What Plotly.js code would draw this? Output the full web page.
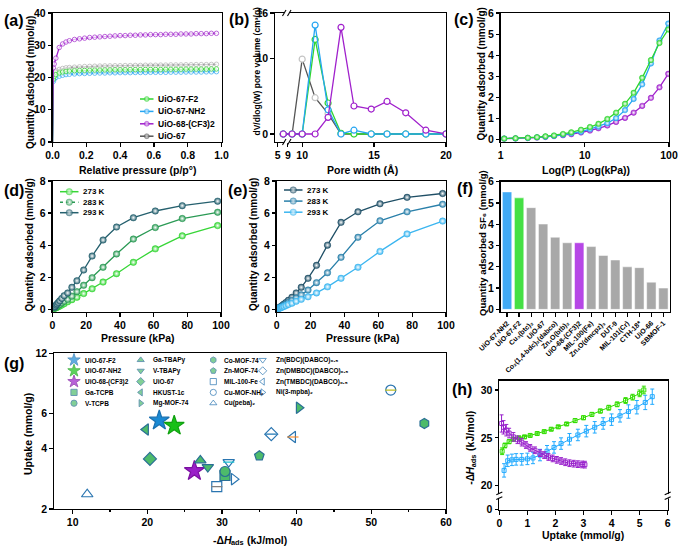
<!DOCTYPE html>
<html><head><meta charset="utf-8">
<script src="https://cdn.plot.ly/plotly-3.0.1.min.js"></script>
<style>html,body{margin:0;padding:0;background:#fff}#chart{width:680px;height:550px}</style>
</head><body><div id="chart"></div>
<script>
// ---------- DATA ----------
// (a) N2 isotherms
const pRel = [0, 0.005, 0.01, 0.02, 0.04, 0.06, 0.08, 0.10, 0.13, 0.16, 0.19, 0.22, 0.25, 0.28, 0.31, 0.34, 0.37, 0.40, 0.43, 0.46, 0.49, 0.52, 0.55, 0.58, 0.61, 0.64, 0.67, 0.70, 0.73, 0.76, 0.79, 0.82, 0.85, 0.88, 0.91, 0.94, 0.97];
const n2F2 = [0, 19.5, 20.3, 20.9, 21.4, 21.7, 21.9, 22.0, 22.1, 22.15, 22.2, 22.25, 22.3, 22.3, 22.35, 22.35, 22.4, 22.4, 22.4, 22.45, 22.45, 22.45, 22.5, 22.5, 22.5, 22.5, 22.55, 22.55, 22.55, 22.55, 22.6, 22.6, 22.6, 22.6, 22.6, 22.65, 22.65];
const n2NH2 = [0, 18.8, 19.5, 20.0, 20.4, 20.7, 20.9, 21.0, 21.1, 21.2, 21.25, 21.3, 21.35, 21.4, 21.4, 21.45, 21.45, 21.5, 21.5, 21.5, 21.55, 21.55, 21.55, 21.6, 21.6, 21.6, 21.6, 21.65, 21.65, 21.65, 21.7, 21.7, 21.7, 21.7, 21.75, 21.75, 21.8];
const n2CF3 = [0, 23.0, 24.2, 26.0, 29.3, 30.4, 31.0, 31.4, 31.8, 32.0, 32.2, 32.4, 32.5, 32.6, 32.7, 32.8, 32.9, 33.0, 33.0, 33.1, 33.1, 33.2, 33.2, 33.3, 33.3, 33.3, 33.4, 33.4, 33.4, 33.5, 33.5, 33.5, 33.6, 33.6, 33.6, 33.7, 33.7];
const n2UiO67 = [0, 20.5, 21.5, 22.0, 22.5, 22.8, 23.0, 23.1, 23.2, 23.3, 23.4, 23.45, 23.5, 23.55, 23.6, 23.6, 23.65, 23.65, 23.7, 23.7, 23.75, 23.75, 23.8, 23.8, 23.8, 23.85, 23.85, 23.9, 23.9, 23.9, 23.95, 23.95, 24.0, 24.0, 24.0, 24.05, 24.1];

// (b) pore size distribution
const poreW = [7.2, 9.3, 10.0, 10.9, 11.8, 12.7, 13.6, 14.8, 15.9, 17.2, 18.6, 20.0];
const psdF2 = [0, 0, 0, 12.5, 4.1, 0.1, 0, 0, 0, 0, 0, 0];
const psdNH2 = [0, 0, 0, 14.4, 3.2, 0, 0.5, 0, 0, 0, 0, 0];
const psdCF3 = [0, 0, 0, 0, 2.2, 14.1, 3.7, 3.3, 4.3, 2.8, 0.5, 0];
const psdUiO67 = [0, 0, 9.9, 4.8, 2.7, 0, 0, 0, 0, 0, 0, 0];
const poreTickVals = [5, 9, 10, 15, 20];

// (c)(d)(e) SF6 isotherms
const pkPa = [1.1, 1.5, 2.1, 2.7, 3.4, 4.3, 5.5, 6.9, 9.0, 11.5, 14.5, 18.5, 23.5, 30, 38, 48, 61, 77, 98];
const sf6F2_273K = [0.05, 0.07, 0.09, 0.12, 0.16, 0.20, 0.27, 0.35, 0.47, 0.60, 0.75, 0.98, 1.28, 1.70, 2.22, 2.93, 3.77, 4.58, 5.22];
const sf6F2_283K = [0.07, 0.10, 0.14, 0.18, 0.24, 0.30, 0.40, 0.50, 0.62, 0.82, 1.10, 1.50, 1.97, 2.62, 3.45, 4.38, 5.10, 5.66, 6.05];
const sf6F2_293K = [0.13, 0.18, 0.26, 0.33, 0.42, 0.53, 0.68, 0.85, 1.02, 1.37, 1.78, 2.45, 3.32, 4.32, 5.13, 5.71, 6.13, 6.46, 6.74];
const sf6NH2_273K = [0.07, 0.10, 0.14, 0.19, 0.25, 0.33, 0.43, 0.56, 0.75, 1.02, 1.37, 1.93, 2.74, 4.00, 5.42, 6.08, 6.58, 6.98, 7.22];
const sf6NH2_283K = [0.06, 0.08, 0.12, 0.16, 0.20, 0.26, 0.33, 0.42, 0.55, 0.70, 0.90, 1.20, 1.66, 2.28, 3.24, 4.49, 5.52, 6.08, 6.55];
const sf6NH2_293K = [0.05, 0.06, 0.08, 0.11, 0.14, 0.18, 0.23, 0.30, 0.38, 0.50, 0.62, 0.78, 1.02, 1.40, 1.93, 2.62, 3.61, 4.70, 5.50];
const sf6CF3 = [0.05, 0.06, 0.08, 0.10, 0.13, 0.17, 0.21, 0.26, 0.34, 0.43, 0.54, 0.67, 0.84, 1.03, 1.28, 1.60, 1.98, 2.48, 3.12];
const tempLabels = ['273 K', '283 K', '293 K'];

// (f) SF6 uptake comparison
const mofNames = ['UiO-67-NH2', 'UiO-67-F2', 'Cu₃(btc)₂', 'UiO-67', 'Co₂(1,4-bdc)₂(dabco)', 'Zn₄O(btb)₂', 'UiO-68-(CF3)2', 'MIL-100(Fe)', 'Zn₄O(dmcpz)₃', 'DUT-9', 'MIL-101(Cr)', 'CTH-18*', 'UiO-66', 'SBMOF-1'];
const mofUptake = [5.52, 5.24, 4.78, 4.01, 3.39, 3.13, 3.13, 2.95, 2.53, 2.32, 2.00, 1.96, 1.28, 1.00];

// (g) uptake vs heat of adsorption
const gNames = ['UiO-67-F2', 'UiO-67-NH2', 'UiO-68-(CF3)2', 'Ga-TCPB', 'V-TCPB', 'Ga-TBAPy', 'V-TBAPy', 'UiO-67', 'HKUST-1c', 'Mg-MOF-74', 'Co-MOF-74', 'Zn-MOF-74', 'MIL-100-Fe', 'Cu-MOF-NH₂', 'Cu(peba)₂', 'Zn(BDC)(DABCO)₀.₅', 'Zn(DMBDC)(DABCO)₀.₅', 'Zn(TMBDC)(DABCO)₀.₅', 'Ni(3-mpba)₂'];
const gDH = [21.6, 23.6, 26.3, 30.4, 30.4, 27.1, 28.1, 20.35, 19.8, 40.3, 57.1, 35.0, 29.3, 52.6, 11.95, 30.9, 36.6, 39.5, 31.6];
const gUp = [5.54, 5.22, 3.10, 2.94, 3.08, 3.50, 3.24, 3.56, 4.99, 6.41, 5.35, 3.69, 2.59, 7.86, 2.37, 3.43, 4.73, 4.58, 2.82];

// (h) isosteric heat
const hF2x = [0.10, 0.20, 0.35, 0.50, 0.70, 0.90, 1.10, 1.35, 1.60, 1.85, 2.10, 2.40, 2.70, 3.00, 3.30, 3.60, 3.90, 4.20, 4.50, 4.75, 5.00, 5.15];
const hF2y = [23.6, 24.2, 24.6, 24.85, 25.0, 25.1, 25.25, 25.45, 25.65, 25.9, 26.15, 26.45, 26.8, 27.1, 27.45, 27.8, 28.15, 28.5, 28.9, 29.25, 29.65, 30.0];
const hF2e = [0.35, 0.25, 0.2, 0.15, 0.15, 0.15, 0.15, 0.15, 0.15, 0.15, 0.15, 0.15, 0.2, 0.2, 0.2, 0.2, 0.25, 0.25, 0.3, 0.3, 0.35, 0.4];
const hNH2x = [0.17, 0.30, 0.45, 0.60, 0.80, 1.00, 1.20, 1.45, 1.70, 1.95, 2.20, 2.50, 2.80, 3.10, 3.40, 3.70, 4.00, 4.30, 4.60, 4.90, 5.20, 5.45];
const hNH2y = [21.6, 22.6, 22.7, 22.75, 22.75, 22.8, 22.9, 23.2, 23.6, 24.0, 24.4, 24.85, 25.3, 25.7, 26.1, 26.5, 26.9, 27.3, 27.75, 28.2, 28.7, 29.3];
const hNH2e = [0.7, 0.6, 0.6, 0.6, 0.6, 0.6, 0.6, 0.6, 0.6, 0.6, 0.6, 0.6, 0.6, 0.6, 0.6, 0.6, 0.6, 0.65, 0.7, 0.7, 0.75, 0.8];
const hCF3x = [0.08, 0.15, 0.25, 0.35, 0.50, 0.65, 0.80, 0.95, 1.10, 1.27, 1.45, 1.60, 1.75, 1.90, 2.05, 2.20, 2.35, 2.50, 2.65, 2.80, 2.95, 3.05];
const hCF3y = [26.5, 26.1, 25.8, 25.5, 25.1, 24.8, 24.55, 24.25, 23.95, 23.7, 23.4, 23.2, 23.0, 22.85, 22.7, 22.58, 22.45, 22.35, 22.3, 22.25, 22.22, 22.2];
const hCF3e = [0.9, 0.7, 0.6, 0.5, 0.45, 0.4, 0.4, 0.35, 0.35, 0.35, 0.35, 0.35, 0.35, 0.35, 0.35, 0.35, 0.35, 0.35, 0.35, 0.35, 0.35, 0.35];

// ---------- STYLE / LAYOUT HELPERS ----------
const W = 680, H = 550;
const FONT = '"Liberation Sans", Arial, sans-serif';
const BLK = '#000';
const C = {F2: '#2fd62f', NH2: '#27a6f2', CF3: '#a020cc', U67: '#666666'};
function xd(a, b) { return [a / W, b / W]; }
function yd(t, b) { return [1 - b / H, 1 - t / H]; }
function F(size, style) { return {family: FONT, size: size, color: BLK, weight: 700, style: style || 'normal'}; }
function axis(o) {
  return Object.assign({showline: true, linecolor: BLK, linewidth: 1.3, mirror: true, ticks: 'outside',
    ticklen: 3.5, tickwidth: 1.2, tickcolor: BLK, showgrid: false, zeroline: false,
    tickfont: F(10.5), fixedrange: true}, o);
}
const mctx = document.createElement('canvas').getContext('2d');
function measure(t, size, italic) {
  mctx.font = (italic ? 'italic ' : '') + 'bold ' + size + 'px "Liberation Sans", Arial, sans-serif';
  return mctx.measureText(t).width;
}

const data = [];
const ann = [];
const shapes = [];

// (a)
function isoA(name, y, col, mk) {
  return {type: 'scatter', mode: 'lines+markers', name: name, x: pRel, y: y, xaxis: 'x', yaxis: 'y',
    line: {color: col, width: 1.3},
    marker: {symbol: 'circle', size: pRel.map(p => p === 0 ? 0 : 4.5), color: '#fff', line: {color: mk || col, width: 1}},
    showlegend: false};
}
data.push(isoA('UiO-67', n2UiO67, C.U67, '#b0b0b0'));
data.push(isoA('UiO-67-NH2', n2NH2, C.NH2));
data.push(isoA('UiO-67-F2', n2F2, C.F2));
data.push(isoA('UiO-68-(CF3)2', n2CF3, C.CF3));

// (b) broken axis mapping (5-9 compressed)
const brk = w => w < 9 ? 8.3 + (w - 5) * 0.175 : w;
function psd(name, y, col, mk) {
  return {type: 'scatter', mode: 'lines+markers', name: name, x: poreW.map(brk), y: y, xaxis: 'x2', yaxis: 'y2',
    line: {color: col, width: 1.3},
    marker: {symbol: 'circle', size: 6, color: '#fff', line: {color: mk || col, width: 1.2}}, showlegend: false};
}
data.push(psd('UiO-67', psdUiO67, '#555555', '#c4c4c4'));
data.push(psd('UiO-67-F2', psdF2, C.F2));
data.push(psd('UiO-67-NH2', psdNH2, C.NH2));
data.push(psd('UiO-68-(CF3)2', psdCF3, C.CF3));

// (c)
function iso(name, y, col, xa, ya, dash) {
  return {type: 'scatter', mode: 'lines+markers', name: name, x: pkPa, y: y, xaxis: xa, yaxis: ya,
    line: {color: col, width: 1.3, dash: dash || 'solid'},
    marker: {symbol: 'circle', size: 5.5, color: col, line: {color: col, width: 0.5}, gradient: {type: 'radial', color: '#ffffff'}},
    showlegend: false};
}
data.push(iso('UiO-68-(CF3)2', sf6CF3, C.CF3, 'x3', 'y3'));
data.push(iso('UiO-67-NH2', sf6NH2_293K, C.NH2, 'x3', 'y3'));
data.push(iso('UiO-67-F2', sf6F2_273K, C.F2, 'x3', 'y3'));

// (d)(e)
const dCols = ['#37d637', '#2b9a55', '#25606e'];
const eCols = ['#1f4f66', '#2a80aa', '#3cb6f0'];
[sf6F2_273K, sf6F2_283K, sf6F2_293K].forEach((y, i) => {
  const t = iso(tempLabels[i], y, dCols[i], 'x4', 'y4'); t.marker.size = 6.5; data.push(t);
});
[sf6NH2_273K, sf6NH2_283K, sf6NH2_293K].forEach((y, i) => {
  const t = iso(tempLabels[i], y, eCols[i], 'x5', 'y5'); t.marker.size = 6.5; data.push(t);
});

// (f)
const barCols = mofNames.map((n, i) => i === 0 ? '#41aaf5' : i === 1 ? '#45e045' : n === 'UiO-68-(CF3)2' ? '#b646e6' : '#a8a8a8');
data.push({type: 'bar', name: 'SF6 uptake', x: mofNames, y: mofUptake, xaxis: 'x6', yaxis: 'y6',
  marker: {color: barCols, line: {color: '#ffffff', width: 0.5}}, showlegend: false});

// (g)
const gSym = ['star', 'star', 'star', 'square', 'circle', 'triangle-up', 'triangle-down', 'diamond', 'triangle-left', 'triangle-right', 'hexagon', 'pentagon', 'square-open', 'circle-open', 'triangle-up-open', 'triangle-down-open', 'diamond-open', 'triangle-left-open', 'triangle-right-open'];
const gFill = gNames.map((n, i) => i === 0 ? '#1a8ad4' : i === 1 ? '#18c018' : i === 2 ? '#9a1fc8' : i < 12 ? '#4dbb6a' : '#2a75b0');
const gEdge = gNames.map((n, i) => i === 0 ? '#1a70b0' : i === 1 ? '#10a010' : i === 2 ? '#7a10a0' : '#2a6f96');
const gSize = gNames.map((n, i) => i < 3 ? 15 : 10);
gNames.forEach((n, i) => {
  data.push({type: 'scatter', mode: 'markers', name: n, x: [gDH[i]], y: [gUp[i]], xaxis: 'x7', yaxis: 'y7',
    marker: {symbol: gSym[i], size: gSize[i], color: gFill[i], line: {color: gEdge[i], width: 1.2}},
    cliponaxis: false, showlegend: false});
});
[12, 13, 15, 16, 17].forEach(i => {
  data.push({type: 'scatter', mode: 'markers', name: gNames[i], x: [gDH[i]], y: [gUp[i]], xaxis: 'x7', yaxis: 'y7',
    marker: {symbol: 'line-ew-open', size: 8, line: {color: '#2a75b0', width: 1.2}}, hoverinfo: 'skip', showlegend: false});
});

// (h)
function qst(name, x, y, e, col) {
  return {type: 'scatter', mode: 'lines+markers', name: name, x: x, y: y, xaxis: 'x8', yaxis: 'y8',
    line: {color: col, width: 1},
    marker: {symbol: 'square-open', size: 4, color: col, line: {color: col, width: 1}},
    error_y: {type: 'data', array: e, visible: true, color: col, thickness: 1, width: 2},
    showlegend: false};
}
data.push(qst('UiO-67-NH2', hNH2x, hNH2y, hNH2e, '#22aaff'));
data.push(qst('UiO-67-F2', hF2x, hF2y, hF2e, '#33dd00'));
data.push(qst('UiO-68-(CF3)2', hCF3x, hCF3y, hCF3e, '#9922cc'));

// ---------- manual legends on a pixel canvas axis ----------
function legendEntry(x0, x1, xT, yRow, col, label, msize, fs, dash) {
  data.push({type: 'scatter', mode: 'lines+markers', name: label, x: [x0, (x0 + x1) / 2, x1], y: [yRow, yRow, yRow],
    xaxis: 'x9', yaxis: 'y9', line: {color: col, width: 1.5, dash: dash || 'solid'},
    marker: {symbol: 'circle', size: [0, msize, 0], color: col, line: {color: col, width: [0, 0.5, 0]}, gradient: {type: 'radial', color: '#ffffff'}},
    hoverinfo: 'skip', showlegend: false});
  ann.push({xref: 'paper', yref: 'paper', x: xT / W, y: 1 - yRow / H, xanchor: 'left', yanchor: 'middle',
    text: label, showarrow: false, font: F(fs)});
}
[['UiO-67-F2', C.F2], ['UiO-67-NH2', C.NH2], ['UiO-68-(CF3)2', C.CF3], ['UiO-67', '#555555']].forEach((e, i) => {
  legendEntry(140, 153.5, 156, 99 + i * 12.4, e[1], e[0], 5, 8.5);
});
tempLabels.forEach((t, i) => {
  legendEntry(60, 78.5, 81, 191.7 + i * 10.5, dCols[i], t, 6.5, 8, i === 1 ? 'dot' : 'solid');
  legendEntry(284, 302.5, 305, 190 + i * 11.1, eCols[i], t, 6.5, 8);
});
const gColMk = [74, 140.7, 213.3, 262.7], gColTx = [83, 150.5, 221.5, 273.5];
data.push({type: 'scatter', mode: 'markers', name: 'legend (g)', x: gNames.map((n, i) => gColMk[Math.floor(i / 5)]),
  y: gNames.map((n, i) => 360 + (i % 5) * 10.8), xaxis: 'x9', yaxis: 'y9',
  marker: {symbol: gSym, size: gSize.map(s => s * 0.62), color: gFill, line: {color: gEdge, width: 1}},
  hoverinfo: 'skip', showlegend: false});
gNames.forEach((n, i) => {
  ann.push({xref: 'paper', yref: 'paper', x: gColTx[Math.floor(i / 5)] / W, y: 1 - (360 + (i % 5) * 10.8) / H,
    xanchor: 'left', yanchor: 'middle', text: n, showarrow: false, font: F(6.5)});
});

// panel labels
[['(a)', 2, 20], ['(b)', 227, 19], ['(c)', 452, 19], ['(d)', 2, 190], ['(e)', 226, 190], ['(f)', 455, 188], ['(g)', 2, 363], ['(h)', 450, 389]].forEach(p => {
  ann.push({xref: 'paper', yref: 'paper', x: p[1] / W, y: 1 - p[2] / H, xanchor: 'left', yanchor: 'middle',
    text: p[0], showarrow: false, font: F(16)});
});

// axis titles (annotations, placed as in the reference)
const qty = 'Quantity adsorbed (mmol/g)';
[
  ['Relative pressure (p/p°)', 137, 170, 0, 10.5],
  [qty, 31, 83, -90, 10],
  ['Pore width (Å)', 362.5, 170, 0, 10.5],
  ['dV/dlog(W) pore volume (cm³/g)', 256.5, 71, -90, 8.5],
  ['Log(P) (Log(kPa))', 586, 170, 0, 10.5],
  [qty, 481.5, 74, -90, 10],
  ['Pressure (kPa)', 137.5, 338, 0, 10.5],
  [qty, 28.5, 245, -90, 10],
  ['Pressure (kPa)', 362.5, 338, 0, 10.5],
  [qty, 253, 245, -90, 10],
  ['Quantity adsorbed SF₆ (mmol/g)', 482, 243, -90, 9.5],
  ['Uptake (mmol/g)', 28, 434, -90, 10.5],
  ['Uptake (mmol/g)', 583, 535, 0, 10.5]
].forEach(t => ann.push({xref: 'paper', yref: 'paper', x: t[1] / W, y: 1 - t[2] / H, xanchor: 'center', yanchor: 'middle',
  text: t[0], textangle: t[3], showarrow: false, font: F(t[4])}));

// "-ΔH_ads (kJ/mol)" built from pieces (italic H, lowered "ads")
function dHTitle(cx, cy, vertical, size) {
  const pieces = [
    {t: '-Δ', s: size, it: false, sub: 0},
    {t: 'H', s: size, it: true, sub: 0},
    {t: 'ads', s: size * 0.7, it: false, sub: size * 0.28},
    {t: '(kJ/mol)', s: size, it: false, sub: 0, gap: size * 0.28}
  ];
  pieces.forEach(p => { p.w = measure(p.t, p.s, p.it); });
  const total = pieces.reduce((a, p) => a + p.w + (p.gap || 0), 0);
  let off = -total / 2;
  pieces.forEach(p => {
    off += (p.gap || 0);
    const mid = off + p.w / 2;
    const px = vertical ? cx + p.sub : cx + mid;
    const py = vertical ? cy - mid : cy + p.sub;
    ann.push({xref: 'paper', yref: 'paper', x: px / W, y: 1 - py / H, xanchor: 'center', yanchor: 'middle',
      text: p.t, textangle: vertical ? -90 : 0, showarrow: false, borderpad: 0, borderwidth: 0,
      font: F(p.s, p.it ? 'italic' : 'normal')});
    off += p.w;
  });
}
dHTitle(250, 540, false, 10.5);
dHTitle(470, 448, true, 10.5);

// axis break marks (shapes)
function pLine(x0, y0, x1, y1, col, w) {
  shapes.push({type: 'line', xref: 'paper', yref: 'paper', x0: x0 / W, y0: 1 - y0 / H, x1: x1 / W, y1: 1 - y1 / H,
    line: {color: col, width: w}, layer: 'above'});
}
[13, 142].forEach(y => {
  pLine(284.3, y, 289.7, y, '#ffffff', 2.5);
  pLine(282.5, y + 3, 286, y - 3, BLK, 1.1);
  pLine(287.5, y + 3, 291, y - 3, BLK, 1.1);
});
[499.3, 667.7].forEach(x => {
  pLine(x, 493.8, x, 498.4, '#ffffff', 2.5);
  pLine(x - 3, 494.8, x + 3, 492, BLK, 1.1);
  pLine(x - 3, 499.6, x + 3, 496.8, BLK, 1.1);
});

const layout = {
  width: W, height: H, margin: {l: 0, r: 0, t: 0, b: 0}, paper_bgcolor: '#fff', plot_bgcolor: 'rgba(0,0,0,0)',
  showlegend: false, annotations: ann, shapes: shapes, font: F(10),
  xaxis: axis({domain: xd(52.5, 221.5), anchor: 'y', range: [0, 1], dtick: 0.2, tickformat: '.1f'}),
  yaxis: axis({domain: yd(13, 142), anchor: 'x', range: [0, 40], dtick: 10}),
  xaxis2: axis({domain: xd(275, 446), anchor: 'y2', range: [8.11, 20], tickvals: poreTickVals.map(brk), ticktext: poreTickVals.map(String)}),
  yaxis2: axis({domain: yd(13, 142), anchor: 'x2', range: [-1.06, 16], tickvals: [0, 10, 16]}),
  xaxis3: axis({domain: xd(500.7, 669), anchor: 'y3', type: 'log', range: [0, 2], tickvals: [1, 10, 100]}),
  yaxis3: axis({domain: yd(13, 142), anchor: 'x3', range: [-0.11, 6], dtick: 1}),
  xaxis4: axis({domain: xd(52.5, 221), anchor: 'y4', range: [0, 100], dtick: 20}),
  yaxis4: axis({domain: yd(181, 311.7), anchor: 'x4', range: [-0.15, 8], dtick: 2}),
  xaxis5: axis({domain: xd(276.7, 446), anchor: 'y5', range: [0, 100], dtick: 20}),
  yaxis5: axis({domain: yd(181, 311.7), anchor: 'x5', range: [-0.15, 8], dtick: 2}),
  xaxis6: axis({domain: xd(500.7, 670), anchor: 'y6', type: 'category', range: [-0.53, 13.55], tickangle: -45, tickfont: F(7)}),
  yaxis6: axis({domain: yd(181.7, 311.7), anchor: 'x6', range: [-0.11, 6], dtick: 1}),
  bargap: 0.22,
  xaxis7: axis({domain: xd(54, 446), anchor: 'y7', range: [7.5, 60], dtick: 10, minor: {dtick: 5, ticks: 'outside', ticklen: 2}}),
  yaxis7: axis({domain: yd(353.3, 509), anchor: 'x7', type: 'log', range: [Math.log10(2), Math.log10(12)], tickvals: [2, 4, 6, 12]}),
  xaxis8: axis({domain: xd(499.3, 667.7), anchor: 'y8', range: [0, 6], dtick: 1}),
  yaxis8: axis({domain: yd(380.7, 510), anchor: 'x8', range: [17.46, 30.97], tickvals: [17.53, 20, 25, 30], ticktext: ['0', '20', '25', '30']}),
  xaxis9: {domain: [0, 1], anchor: 'y9', range: [0, W], visible: false, fixedrange: true},
  yaxis9: {domain: [0, 1], anchor: 'x9', range: [H, 0], visible: false, fixedrange: true}
};
Plotly.newPlot('chart', data, layout, {staticPlot: true, displayModeBar: false});
</script></body></html>
